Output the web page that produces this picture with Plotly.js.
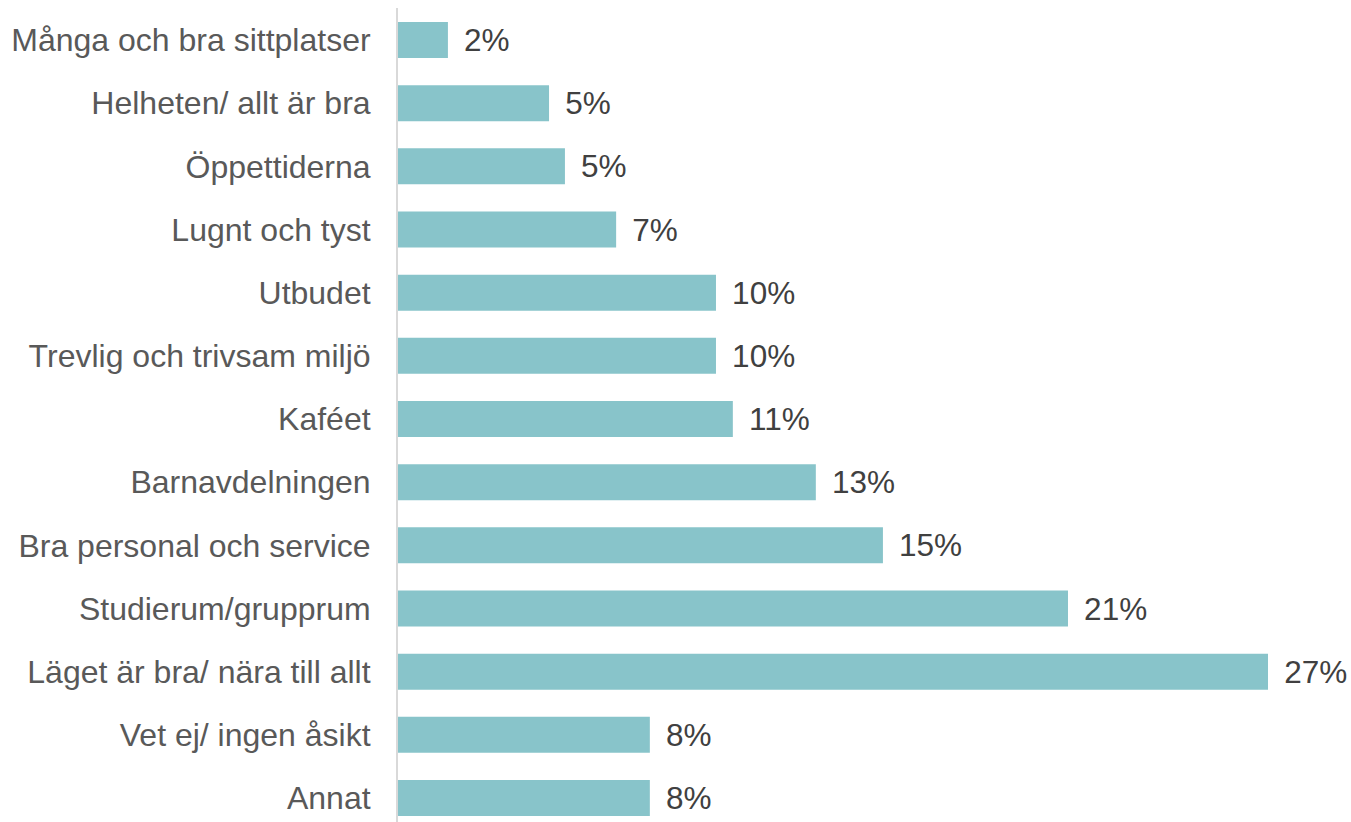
<!DOCTYPE html>
<html>
<head>
<meta charset="utf-8">
<script src="https://cdn.plot.ly/plotly-3.0.1.min.js"></script>
<style>html,body{margin:0;padding:0;background:#fff;}#chart{width:1351px;height:822px;}</style>
</head>
<body>
<div id="chart"></div>
<script>
const categories = [
  "Många och bra sittplatser",
  "Helheten/ allt är bra",
  "Öppettiderna",
  "Lugnt och tyst",
  "Utbudet",
  "Trevlig och trivsam miljö",
  "Kaféet",
  "Barnavdelningen",
  "Bra personal och service",
  "Studierum/grupprum",
  "Läget är bra/ nära till allt",
  "Vet ej/ ingen åsikt",
  "Annat"
];
const shares = [0.0157, 0.0475, 0.0525, 0.0686, 0.1000, 0.1000, 0.1053, 0.1314, 0.1525, 0.2107, 0.2736, 0.0792, 0.0792];

const trace = {
  type: 'bar',
  orientation: 'h',
  y: categories,
  x: shares,
  marker: {color: '#88C4CA'},
  texttemplate: '\u2005\u2006%{x:.0%}',
  textposition: 'outside',
  constraintext: 'none',
  cliponaxis: false,
  textfont: {family: 'Liberation Sans, Arial, sans-serif', size: 31.5, color: '#404040'},
  hoverinfo: 'skip'
};

const layout = {
  width: 1351, height: 822,
  margin: {l: 398, r: 0, t: 8, b: 0},
  paper_bgcolor: '#ffffff', plot_bgcolor: '#ffffff',
  bargap: 0.43,
  showlegend: false,
  font: {family: 'Liberation Sans, Arial, sans-serif', color: '#595959'},
  xaxis: {range: [0, 0.2997], showgrid: false, zeroline: false, showticklabels: false, ticks: '', showline: false, fixedrange: true},
  yaxis: {type: 'category', autorange: false, range: [12.38, -0.507], showgrid: false, zeroline: false,
          showline: true, linecolor: '#D9D9D9', linewidth: 2, ticks: '', ticklabelstandoff: 19,
          tickfont: {family: 'Liberation Sans, Arial, sans-serif', size: 32, color: '#595959'}, fixedrange: true}
};

Plotly.newPlot('chart', [trace], layout, {displayModeBar: false, staticPlot: true});
</script>
</body>
</html>
